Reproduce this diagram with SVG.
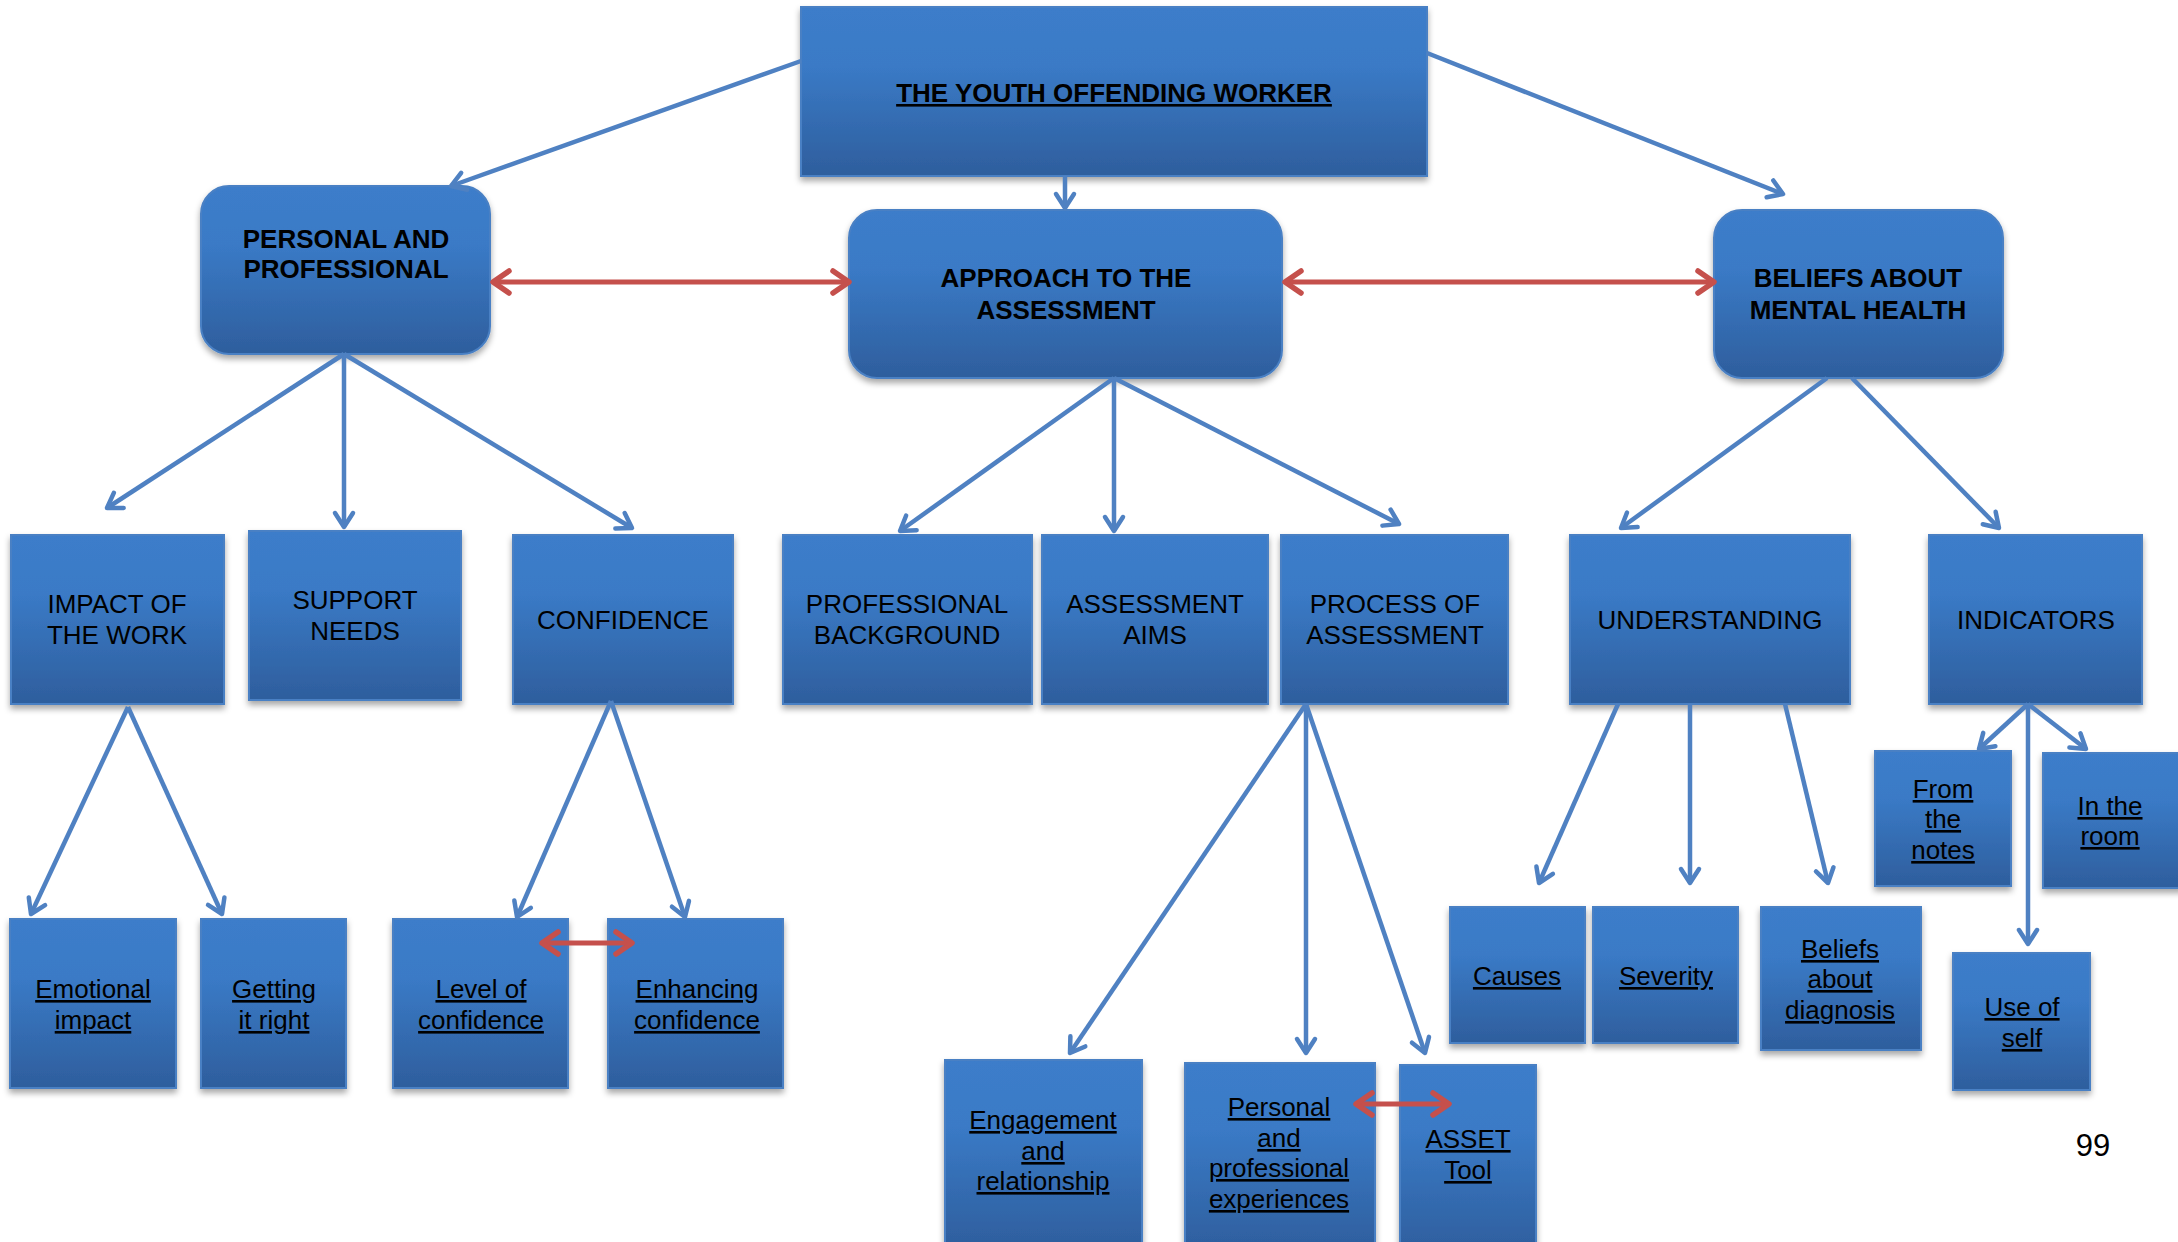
<svg xmlns="http://www.w3.org/2000/svg" width="2178" height="1242" viewBox="0 0 2178 1242">
<defs>
<linearGradient id="g" x1="0" y1="0" x2="0" y2="1">
<stop offset="0" stop-color="#3C7DCA"/>
<stop offset="0.35" stop-color="#3A7AC6"/>
<stop offset="1" stop-color="#2E5E9D"/>
</linearGradient>
<filter id="sh" x="-10%" y="-10%" width="120%" height="125%">
<feDropShadow dx="0" dy="4" stdDeviation="3" flood-color="#000" flood-opacity="0.35"/>
</filter>
<marker id="ab" markerUnits="userSpaceOnUse" markerWidth="26" markerHeight="26" viewBox="0 0 26 26" refX="21" refY="13" orient="auto">
<path d="M7,4 L21,13 L7,22" fill="none" stroke="#4F81C2" stroke-width="4.5" stroke-linecap="round" stroke-linejoin="round"/>
</marker>
<marker id="ar" markerUnits="userSpaceOnUse" markerWidth="30" markerHeight="30" viewBox="0 0 30 30" refX="25" refY="15" orient="auto-start-reverse">
<path d="M9,4 L25,15 L9,26" fill="none" stroke="#C5504C" stroke-width="5.5" stroke-linecap="round" stroke-linejoin="round"/>
</marker>
<style>
.box{fill:url(#g);stroke:#4A80C4;stroke-width:2;filter:url(#sh)}
.tb{font-family:"Liberation Sans",Arial,sans-serif;font-weight:bold;font-size:26px;fill:#000;text-anchor:middle}
.t{font-family:"Liberation Sans",Arial,sans-serif;font-size:26px;fill:#000;text-anchor:middle}
.u{text-decoration:underline}
.lb{fill:none;stroke:#4F81C2;stroke-width:4.5;marker-end:url(#ab)}
.lr{fill:none;stroke:#C5504C;stroke-width:5;marker-start:url(#ar);marker-end:url(#ar)}
</style>
</defs>

<g id="n-worker"><rect class="box" x="801" y="7" width="626" height="169"/><text class="tb u" x="1114" y="102">THE YOUTH OFFENDING WORKER</text></g>
<g id="n-personal"><rect class="box" x="201" y="186" width="289" height="168" rx="28"/><text class="tb" x="346" y="248">PERSONAL AND</text><text class="tb" x="346" y="278">PROFESSIONAL</text></g>
<g id="n-approach"><rect class="box" x="849" y="210" width="433" height="168" rx="28"/><text class="tb" x="1066" y="287">APPROACH TO THE</text><text class="tb" x="1066" y="319">ASSESSMENT</text></g>
<g id="n-beliefs"><rect class="box" x="1714" y="210" width="289" height="168" rx="28"/><text class="tb" x="1858" y="287">BELIEFS ABOUT</text><text class="tb" x="1858" y="319">MENTAL HEALTH</text></g>

<g id="n-impact"><rect class="box" x="11" y="535" width="213" height="169"/><text class="t" x="117" y="613">IMPACT OF</text><text class="t" x="117" y="644">THE WORK</text></g>
<g id="n-support"><rect class="box" x="249" y="531" width="212" height="169"/><text class="t" x="355" y="609">SUPPORT</text><text class="t" x="355" y="640">NEEDS</text></g>
<g id="n-confidence"><rect class="box" x="513" y="535" width="220" height="169"/><text class="t" x="623" y="629">CONFIDENCE</text></g>
<g id="n-profback"><rect class="box" x="783" y="535" width="249" height="169"/><text class="t" x="907" y="613">PROFESSIONAL</text><text class="t" x="907" y="644">BACKGROUND</text></g>
<g id="n-aims"><rect class="box" x="1042" y="535" width="226" height="169"/><text class="t" x="1155" y="613">ASSESSMENT</text><text class="t" x="1155" y="644">AIMS</text></g>
<g id="n-process"><rect class="box" x="1281" y="535" width="227" height="169"/><text class="t" x="1395" y="613">PROCESS OF</text><text class="t" x="1395" y="644">ASSESSMENT</text></g>
<g id="n-understanding"><rect class="box" x="1570" y="535" width="280" height="169"/><text class="t" x="1710" y="629">UNDERSTANDING</text></g>
<g id="n-indicators"><rect class="box" x="1929" y="535" width="213" height="169"/><text class="t" x="2036" y="629">INDICATORS</text></g>

<g id="n-emotional"><rect class="box" x="10" y="919" width="166" height="169"/><text class="t u" x="93" y="998">Emotional</text><text class="t u" x="93" y="1029">impact</text></g>
<g id="n-getting"><rect class="box" x="201" y="919" width="145" height="169"/><text class="t u" x="274" y="998">Getting</text><text class="t u" x="274" y="1029">it right</text></g>
<g id="n-level"><rect class="box" x="393" y="919" width="175" height="169"/><text class="t u" x="481" y="998">Level of</text><text class="t u" x="481" y="1029">confidence</text></g>
<g id="n-enhancing"><rect class="box" x="608" y="919" width="175" height="169"/><text class="t u" x="697" y="998">Enhancing</text><text class="t u" x="697" y="1029">confidence</text></g>

<g id="n-engagement"><rect class="box" x="945" y="1060" width="197" height="190"/><text class="t u" x="1043" y="1129">Engagement</text><text class="t u" x="1043" y="1160">and</text><text class="t u" x="1043" y="1190">relationship</text></g>
<g id="n-persexp"><rect class="box" x="1185" y="1063" width="190" height="190"/><text class="t u" x="1279" y="1116">Personal</text><text class="t u" x="1279" y="1147">and</text><text class="t u" x="1279" y="1177">professional</text><text class="t u" x="1279" y="1208">experiences</text></g>
<g id="n-asset"><rect class="box" x="1400" y="1065" width="136" height="190"/><text class="t u" x="1468" y="1148">ASSET</text><text class="t u" x="1468" y="1179">Tool</text></g>

<g id="n-causes"><rect class="box" x="1450" y="907" width="135" height="136"/><text class="t u" x="1517" y="985">Causes</text></g>
<g id="n-severity"><rect class="box" x="1593" y="907" width="145" height="136"/><text class="t u" x="1666" y="985">Severity</text></g>
<g id="n-diagnosis"><rect class="box" x="1761" y="907" width="160" height="143"/><text class="t u" x="1840" y="958">Beliefs</text><text class="t u" x="1840" y="988">about</text><text class="t u" x="1840" y="1019">diagnosis</text></g>
<g id="n-notes"><rect class="box" x="1875" y="751" width="136" height="135"/><text class="t u" x="1943" y="798">From</text><text class="t u" x="1943" y="828">the</text><text class="t u" x="1943" y="859">notes</text></g>
<g id="n-room"><rect class="box" x="2043" y="753" width="140" height="135"/><text class="t u" x="2110" y="815">In the</text><text class="t u" x="2110" y="845">room</text></g>
<g id="n-self"><rect class="box" x="1953" y="953" width="137" height="137"/><text class="t u" x="2022" y="1016">Use of</text><text class="t u" x="2022" y="1047">self</text></g>

<g id="connectors">
<path class="lb" d="M801,61 L451,186"/>
<path class="lb" d="M1065,176 L1065,208"/>
<path class="lb" d="M1427,53 L1783,194"/>
<path class="lb" d="M344,354 L107,508"/>
<path class="lb" d="M344,354 L344,527"/>
<path class="lb" d="M344,354 L632,528"/>
<path class="lb" d="M1114,378 L900,531"/>
<path class="lb" d="M1114,378 L1114,531"/>
<path class="lb" d="M1114,378 L1399,524"/>
<path class="lb" d="M1827,378 L1621,528"/>
<path class="lb" d="M1852,378 L1999,528"/>
<path class="lb" d="M128,707 L31,914"/>
<path class="lb" d="M128,707 L222,914"/>
<path class="lb" d="M611,701 L517,917"/>
<path class="lb" d="M611,701 L685,917"/>
<path class="lb" d="M1306,704 L1070,1053"/>
<path class="lb" d="M1306,704 L1306,1053"/>
<path class="lb" d="M1306,704 L1425,1053"/>
<path class="lb" d="M1618,704 L1539,883"/>
<path class="lb" d="M1690,704 L1690,883"/>
<path class="lb" d="M1785,704 L1828,883"/>
<path class="lb" d="M2028,704 L1979,749"/>
<path class="lb" d="M2028,704 L2086,749"/>
<path class="lb" d="M2028,704 L2028,944"/>
<path class="lr" d="M493,282 L849,282"/>
<path class="lr" d="M1285,282 L1714,282"/>
<path class="lr" d="M542,943 L632,943"/>
<path class="lr" d="M1356,1104 L1449,1104"/>
</g>

<text x="2093" y="1156" style="font-family:'Liberation Sans',Arial,sans-serif;font-size:31px;fill:#000" text-anchor="middle">99</text>
</svg>
